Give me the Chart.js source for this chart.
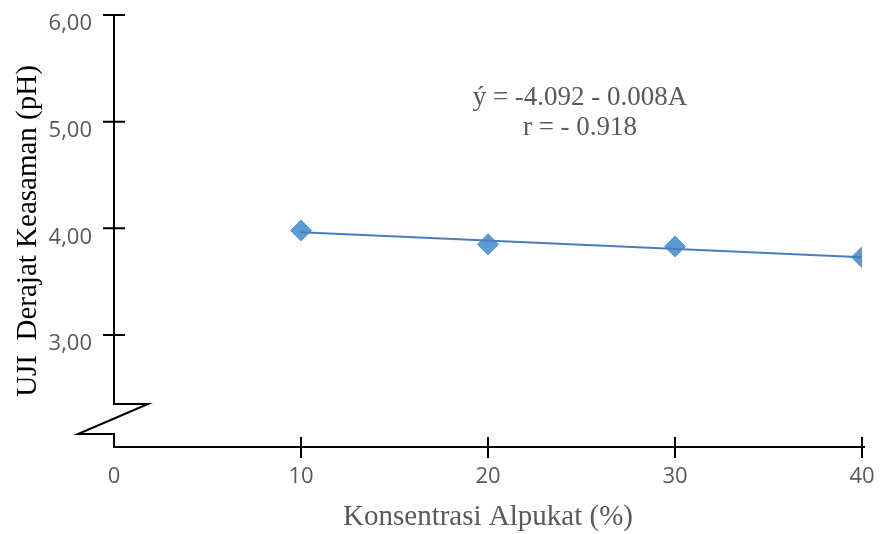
<!DOCTYPE html>
<html>
<head>
<meta charset="utf-8">
<script src="https://cdn.jsdelivr.net/npm/chart.js@4"></script>
<style>
  body { margin: 0; background: #ffffff; }
  canvas { display: block; }
</style>
</head>
<body>
<canvas id="phChart" width="883" height="534"></canvas>
<script>
// data
const concentrations = [10, 20, 30, 40];
const phValues = [3.98, 3.85, 3.83, 3.73];
const trendX = [10, 40];
const trendY = [3.963, 3.728];
const xTicks = [0, 10, 20, 30, 40];
const yTicks = [3, 4, 5, 6];
const equationLines = ["ý = -4.092 - 0.008A", "r = - 0.918"];

const TICK_GREY = "#595959";

// draws the axis lines, the crossing ticks, the axis break and the equation
const axisPlugin = {
  id: "axisPlugin",
  beforeDatasetsDraw(chart) {
    const ctx = chart.ctx;
    const x = chart.scales.x;
    const y = chart.scales.y;
    const x0 = x.getPixelForValue(0);
    const yBottom = chart.chartArea.bottom;
    const yTop = y.getPixelForValue(6);
    const breakTop = yBottom - 43;
    const breakBot = yBottom - 13;

    ctx.save();
    ctx.strokeStyle = "#000000";
    ctx.lineWidth = 2;
    ctx.beginPath();
    ctx.moveTo(x0, yTop);
    ctx.lineTo(x0, breakTop);
    ctx.lineTo(x0 + 34, breakTop);
    ctx.lineTo(x0 - 36, breakBot);
    ctx.lineTo(x0, breakBot);
    ctx.lineTo(x0, yBottom);
    ctx.lineTo(x.getPixelForValue(40) + 3, yBottom);
    ctx.stroke();

    // tick crosses
    ctx.beginPath();
    yTicks.forEach((v) => {
      const py = y.getPixelForValue(v);
      ctx.moveTo(x0 - 11, py);
      ctx.lineTo(x0 + 11, py);
    });
    xTicks.slice(1).forEach((v) => {
      const px = x.getPixelForValue(v);
      ctx.moveTo(px, yBottom - 10);
      ctx.lineTo(px, yBottom + 11);
    });
    ctx.stroke();

    // regression text
    ctx.fillStyle = TICK_GREY;
    ctx.font = "27px 'Liberation Serif'";
    ctx.textAlign = "center";
    ctx.textBaseline = "middle";
    ctx.fillText(equationLines[0], 580, 98);
    ctx.fillText(equationLines[1], 580, 128);
    ctx.restore();
  },
};

const ctx = document.getElementById("phChart").getContext("2d");
const phChart = new Chart(ctx, {
  type: "scatter",
  data: {
    datasets: [
      {
        label: "Trend",
        type: "line",
        data: trendX.map((v, i) => ({ x: v, y: trendY[i] })),
        borderColor: "#4a7ebb",
        borderWidth: 2,
        pointRadius: 0,
        fill: false,
        order: 0,
      },
      {
        label: "pH",
        data: concentrations.map((v, i) => ({ x: v, y: phValues[i] })),
        pointStyle: "rectRot",
        pointRadius: 10.5,
        backgroundColor: "#5b9bd5",
        borderColor: "#5b9bd5",
        borderWidth: 1,
        order: 1,
      },
    ],
  },
  options: {
    responsive: false,
    animation: false,
    layout: {
      padding: { top: 15, right: 21, left: 0, bottom: 0 },
    },
    plugins: {
      legend: { display: false },
      tooltip: { enabled: false },
    },
    scales: {
      x: {
        type: "linear",
        min: 0,
        max: 40,
        afterBuildTicks: (scale) => {
          scale.ticks = xTicks.map((v) => ({ value: v }));
        },
        afterFit: (scale) => {
          scale.height = 87;
          scale.paddingLeft = 0;
          scale.paddingRight = 0;
        },
        grid: { display: false, drawTicks: false },
        border: { display: false },
        ticks: {
          color: TICK_GREY,
          font: { family: "'Open Sans'", size: 22 },
          padding: 17,
        },
        title: {
          display: true,
          text: "Konsentrasi Alpukat (%)",
          color: TICK_GREY,
          font: { family: "'Liberation Serif'", size: 29, lineHeight: 1 },
          padding: { top: 0, bottom: 2 },
        },
      },
      y: {
        type: "linear",
        min: 1.95,
        max: 6,
        afterBuildTicks: (scale) => {
          scale.ticks = yTicks.map((v) => ({ value: v }));
        },
        afterFit: (scale) => {
          scale.width = 114;
          scale.paddingTop = 0;
          scale.paddingBottom = 0;
        },
        grid: { display: false, drawTicks: false },
        border: { display: false },
        ticks: {
          color: TICK_GREY,
          font: { family: "'Open Sans'", size: 22 },
          padding: 22,
          labelOffset: 9,
          callback: (v) => v.toFixed(2).replace(".", ","),
        },
        title: {
          display: true,
          text: "UJI  Derajat Keasaman (pH)",
          color: "#000000",
          font: { family: "'Liberation Serif'", size: 29 },
          padding: { top: 11, bottom: 0 },
        },
      },
    },
  },
  plugins: [axisPlugin],
});
</script>
</body>
</html>
